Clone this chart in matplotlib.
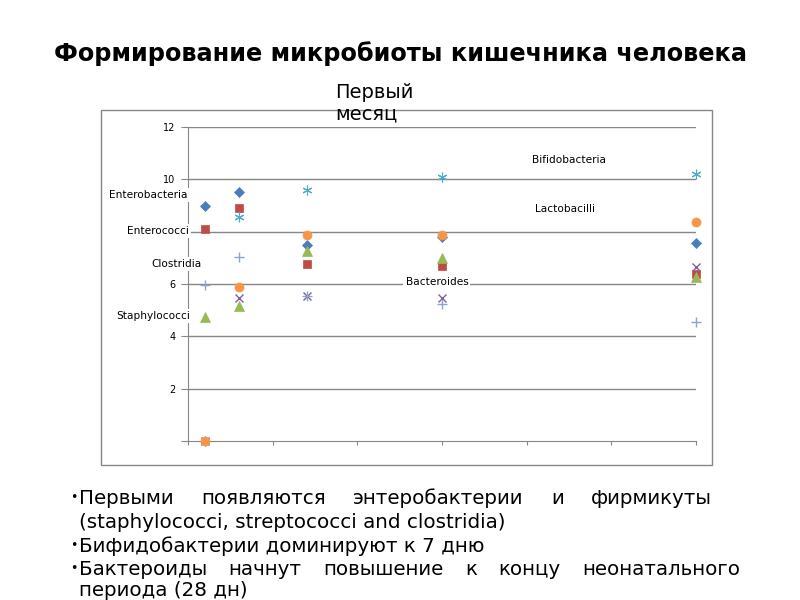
import matplotlib
matplotlib.use("Agg")
import matplotlib.pyplot as plt
from matplotlib.patches import Rectangle

# days after birth
days = [1, 3, 7, 15, 30]

# log10 counts per series
enterobacteria = [9.0, 9.5, 7.5, 7.8, 7.55]
enterococci = [8.1, 8.9, 6.75, 6.7, 6.4]
staphylococci = [4.75, 5.15, 7.25, 7.0, 6.27]
bacteroides = [0.0, 5.45, 5.55, 5.45, 6.65]
bifidobacteria = [0.0, 8.55, 9.6, 10.1, 10.2]
lactobacilli = [0.0, 5.88, 7.87, 7.87, 8.38]
clostridia = [5.98, 7.05, 5.55, 5.25, 4.55]

y_ticks = [0, 2, 4, 6, 8, 10, 12]
y_tick_labels = ["", "2", "4", "6", "", "10", "12"]
x_ticks = [0, 5, 10, 15, 20, 25, 30]

title = "Формирование микробиоты кишечника человека"
subtitle = "Первый\nмесяц"
bullet_lines = [
    ("•", "Первыми появляются энтеробактерии и фирмикуты", True),
    ("", "(staphylococci, streptococci and clostridia)", False),
    ("•", "Бифидобактерии доминируют к 7 дню", False),
    ("•", "Бактероиды начнут повышение к концу неонатального", True),
    ("", "периода (28 дн)", False),
]

GRAY = "#868686"

fig = plt.figure(figsize=(8, 6), dpi=100)
fig.patch.set_facecolor("white")

# outer chart frame
fig.patches.append(Rectangle((101 / 800, 1 - 465 / 600), 611 / 800, 355 / 600,
                             transform=fig.transFigure, fill=False,
                             edgecolor=GRAY, linewidth=1))

ax = fig.add_axes([188 / 800, 1 - 441 / 600, 508 / 800, 314 / 600])
ax.set_xlim(0, 30)
ax.set_ylim(0, 12)

series = [
    (enterobacteria, "D", "#4A7EBB", 5.5, 0.5),
    (enterococci, "s", "#BE4B48", 6, 0.5),
    (staphylococci, "^", "#98B954", 7, 0.5),
    (bacteroides, "x", "#7D60A0", 6, 1.0),
    (bifidobacteria, (6, 2, 0), "#4BACC6", 7, 0.8),
    (lactobacilli, "o", "#F79646", 6.5, 0.5),
    (clostridia, "+", "#8EA5CB", 7.5, 1.0),
]
for vals, marker, color, ms, mew in series:
    ax.plot(days, vals, linestyle="none", marker=marker, color=color,
            markersize=ms, markeredgewidth=mew, clip_on=False, zorder=4)

ax.set_yticks(y_ticks)
ax.set_yticklabels(y_tick_labels, fontsize=7)
ax.set_xticks(x_ticks)
ax.set_xticklabels([])
ax.tick_params(axis="y", length=5, color=GRAY, pad=4)
ax.tick_params(axis="x", length=3, color=GRAY, direction="out")
for y in y_ticks[1:]:
    ax.axhline(y, color=GRAY, linewidth=1, zorder=1)
for side in ("top", "right"):
    ax.spines[side].set_visible(False)
for side in ("left", "bottom"):
    ax.spines[side].set_color(GRAY)

# series labels inside the chart
lab = dict(fontsize=7.6, ha="center", va="center", clip_on=False, zorder=3)
white = dict(facecolor="white", edgecolor="none", pad=1.5)
ax.text(22.5, 10.75, "Bifidobacteria", **lab)
ax.text(22.25, 8.85, "Lactobacilli", **lab)
ax.text(14.7, 6.08, "Bacteroides", bbox=white, **lab)
ax.text(-2.35, 9.4, "Enterobacteria", bbox=white, **lab)
ax.text(-1.75, 8.02, "Enterococci", bbox=white, **lab)
ax.text(-0.7, 6.75, "Clostridia", bbox=white, **lab)
ax.text(-2.05, 4.78, "Staphylococci", bbox=white, **lab)

fig.text(0.5, 1 - 54 / 600, title, ha="center", va="center",
         fontsize=17.3, fontweight="bold")
fig.text(335 / 800, 1 - 103 / 600, subtitle, ha="left", va="center",
         fontsize=14, linespacing=1.2)

# bullet text, first/fourth lines justified like the slide
renderer = fig.canvas.get_renderer()
baselines = [504, 528, 552, 575, 596]
right_edge = [712, None, None, 740, None]
x_left = 79
fs = 14.3
for (bullet, text, just), y, xr in zip(bullet_lines, baselines, right_edge):
    yf = 1 - y / 600
    if bullet:
        fig.text(70 / 800, yf + 3 / 600, bullet, ha="left", va="baseline", fontsize=9)
    if not just:
        fig.text(x_left / 800, yf, text, ha="left", va="baseline", fontsize=fs)
        continue
    words = text.split()
    arts = [fig.text(0, yf, w, ha="left", va="baseline", fontsize=fs) for w in words]
    widths = [a.get_window_extent(renderer).width for a in arts]
    gap = ((xr - x_left) - sum(widths)) / (len(words) - 1)
    x = x_left
    for a, w in zip(arts, widths):
        a.set_x(x / 800)
        x += w + gap

fig.savefig("out.png", dpi=100)
